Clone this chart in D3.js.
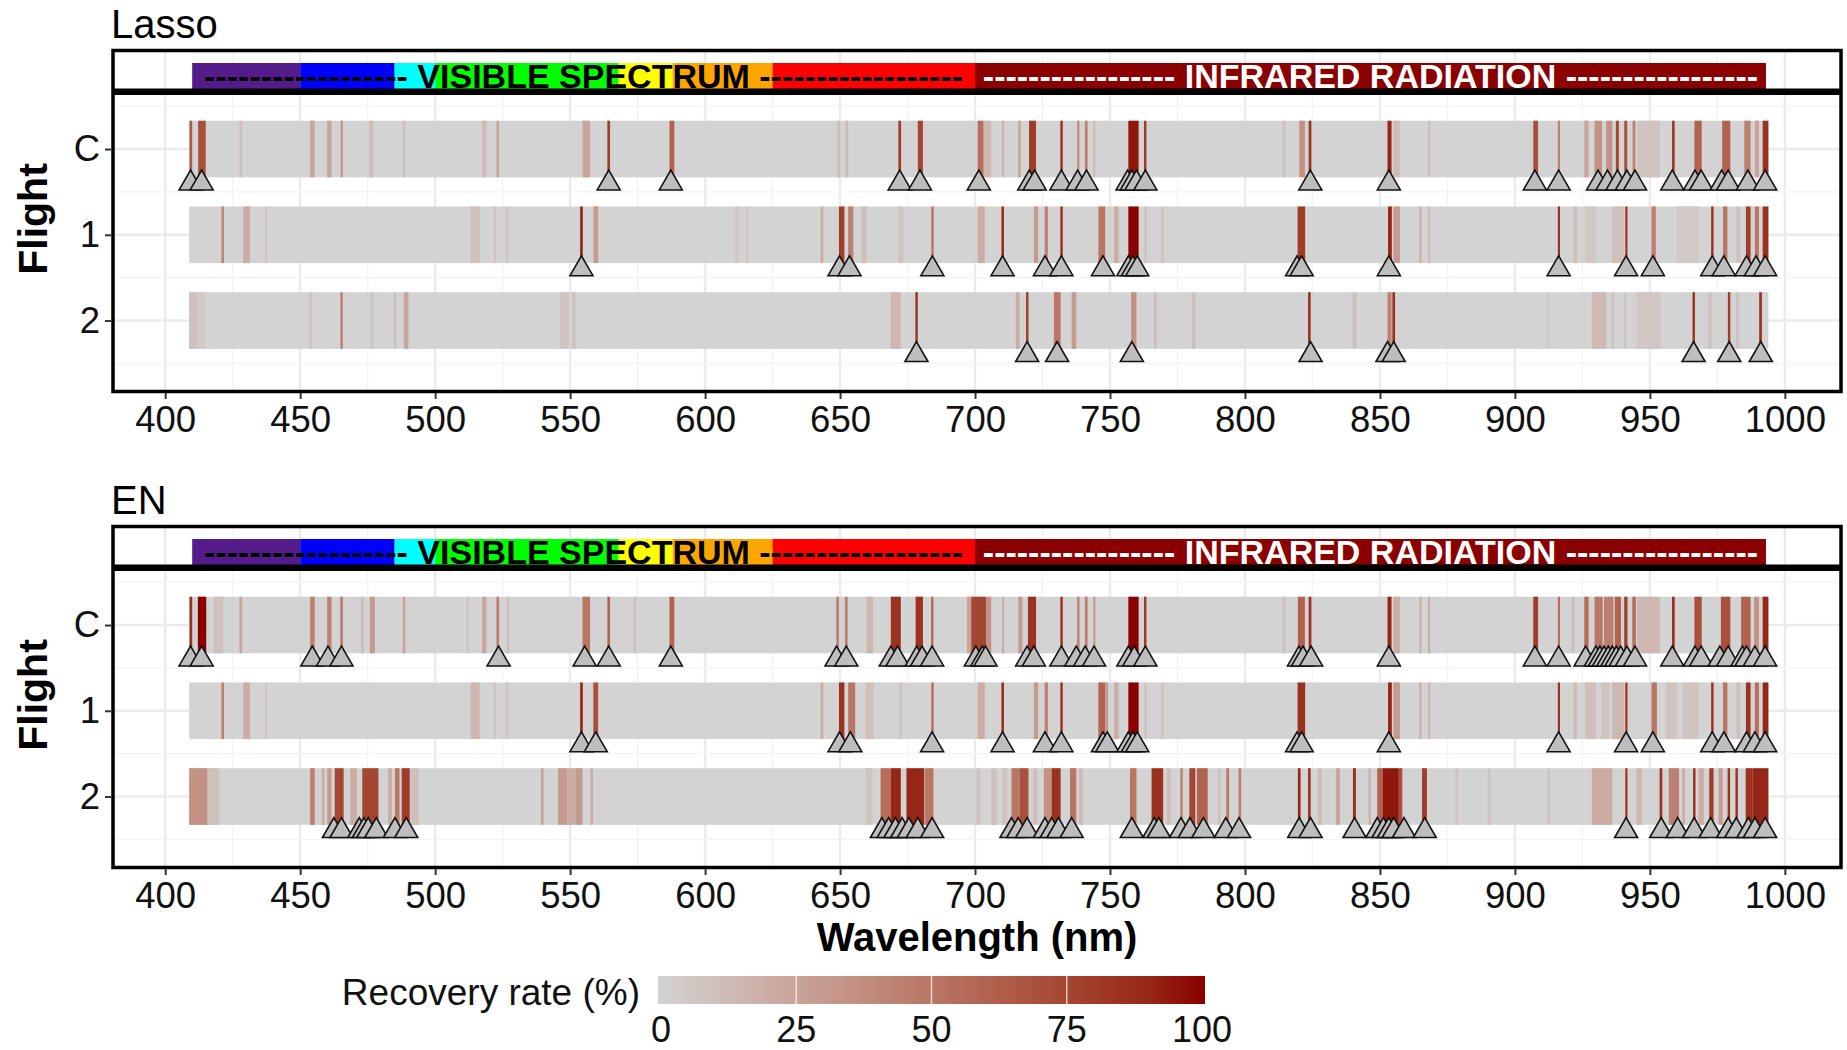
<!DOCTYPE html>
<html>
<head>
<meta charset="utf-8">
<script src="https://cdn.jsdelivr.net/npm/d3@7"></script>
<style>
  body { margin: 0; background: #fff; }
  svg { display: block; font-family: 'Liberation Sans', Arial, sans-serif; }
</style>
</head>
<body>
<svg id="chart" width="1847" height="1050"></svg>
<script>
// ---- data -------------------------------------------------------------
const flights = ['C', '1', '2']
const wavelengthTicks = [400, 450, 500, 550, 600, 650, 700, 750, 800, 850, 900, 950, 1000]
const minorTicks = [425, 475, 525, 575, 625, 675, 725, 775, 825, 875, 925, 975]
const legendTicks = [0, 25, 50, 75, 100]
const bandRange = [408.9, 993.9]   // measured wavelengths, rate 0 unless listed below

// spectrum strip: band edges (nm)
const spectrumEdges = [410, 450, 485, 500, 568, 588, 625, 700, 993]
const spectrumColours = ['#541b8b', '#0000ff', '#00ffff', '#00ff00', '#ffff00', '#ffa500', '#ff0000', '#8b0000']
const visibleLabel = ['------------------ VISIBLE SPECTRUM ------------------', 410, 700]
const infraredLabel = ['----------------- INFRARED RADIATION -----------------', 700, 993]

// recovery rate (%) per wavelength range: [from nm, to nm, rate]
const lassoC = [
  [409.0, 410.0, 65], [412.2, 415.0, 70], [427.5, 428.5, 10],
  [453.7, 455.4, 25], [460.0, 461.6, 25], [465.0, 465.8, 35],
  [475.5, 477.0, 12], [488.0, 489.0, 10], [517.4, 519.0, 12], [522.7, 523.7, 25],
  [554.6, 557.4, 25], [563.8, 564.8, 80], [586.8, 588.6, 60],
  [649.0, 650.0, 12], [652.0, 653.0, 12], [671.6, 672.6, 80], [678.8, 680.7, 75],
  [701.0, 703.2, 55], [703.2, 706.0, 15], [710.0, 710.8, 15],
  [716.0, 717.0, 25], [720.0, 722.6, 80], [731.6, 732.5, 85],
  [737.8, 738.7, 35], [740.7, 741.7, 45], [743.8, 744.5, 15],
  [756.8, 760.6, 95], [762.6, 763.5, 80],
  [814.0, 815.0, 10], [820.1, 822.2, 35], [823.6, 824.6, 85],
  [852.8, 854.3, 90], [855.0, 857.4, 12], [867.8, 868.6, 10],
  [906.8, 908.6, 70], [915.9, 916.7, 45], [925.7, 927.3, 25],
  [929.5, 932.3, 35], [933.8, 936.1, 35], [937.4, 938.5, 75], [940.5, 941.6, 70],
  [943.6, 944.6, 45], [945.3, 953.7, 8],
  [958.2, 959.2, 80], [966.5, 969.2, 60], [976.8, 979.8, 60], [985.0, 987.3, 45],
  [988.9, 990.4, 25], [991.8, 993.9, 85]
]
const lasso1 = [
  [420.8, 421.8, 40], [428.9, 431.4, 20], [437.0, 437.8, 8],
  [513.2, 516.5, 10], [521.7, 522.5, 8], [526.2, 527.0, 8],
  [553.7, 554.7, 90], [558.6, 560.4, 30], [611.0, 612.6, 6], [615.0, 616.0, 6],
  [642.8, 643.8, 20], [649.6, 651.6, 80], [653.0, 654.9, 45], [658.0, 660.0, 10],
  [671.5, 673.5, 8], [683.8, 684.7, 50], [701.0, 703.6, 20], [709.8, 710.7, 90],
  [721.8, 723.4, 30], [725.8, 727.0, 45], [731.6, 732.5, 85],
  [745.7, 748.2, 50], [751.5, 753.2, 20], [756.8, 760.6, 100], [762.8, 763.6, 10], [769.0, 770.0, 8],
  [819.5, 822.3, 80], [853.0, 854.4, 90], [855.0, 857.4, 30], [864.6, 865.4, 20], [867.8, 868.6, 12],
  [915.9, 916.7, 85], [921.6, 923.0, 10], [926.0, 930.0, 6], [936.0, 940.5, 10], [940.9, 941.7, 85],
  [950.6, 952.2, 45], [960.0, 968.0, 5], [972.7, 973.6, 85], [977.1, 978.7, 50],
  [982.0, 983.5, 10], [985.6, 987.3, 80], [988.9, 990.4, 50], [991.8, 993.9, 85]
]
const lasso2 = [
  [408.9, 412.0, 10], [412.0, 415.0, 5],
  [453.3, 454.3, 8], [464.9, 465.8, 45], [476.0, 477.0, 8], [484.7, 485.5, 10], [488.4, 490.1, 25],
  [546.3, 549.6, 8], [550.8, 552.0, 10],
  [668.8, 672.5, 15], [677.9, 678.8, 85], [715.1, 716.5, 20], [718.9, 719.8, 80],
  [729.2, 731.7, 50], [735.8, 737.5, 30], [757.8, 759.8, 35], [766.4, 767.2, 15], [780.5, 781.6, 12],
  [823.4, 824.3, 90], [839.8, 841.3, 10], [852.8, 854.3, 45], [854.6, 855.6, 85],
  [912.0, 912.8, 6], [928.5, 933.8, 14], [935.8, 936.8, 8], [940.5, 941.2, 10], [945.0, 954.0, 6],
  [965.8, 966.7, 85], [971.5, 973.0, 8], [978.9, 979.8, 80], [982.0, 983.0, 10], [990.5, 991.5, 85]
]
const enC = [
  [409.0, 410.0, 85], [412.1, 415.2, 100], [418.0, 421.5, 10], [427.5, 428.5, 25],
  [453.7, 455.4, 45], [460.0, 461.6, 45], [464.9, 465.8, 50],
  [472.5, 473.5, 12], [475.8, 477.7, 30], [488.0, 489.0, 25],
  [511.5, 512.5, 8], [517.4, 519.0, 25], [522.7, 523.7, 45], [526.5, 527.5, 10],
  [554.6, 557.4, 50], [563.8, 564.8, 60], [573.5, 574.5, 10], [586.8, 588.6, 60],
  [648.6, 649.6, 45], [651.8, 652.8, 45], [659.8, 662.2, 15],
  [668.8, 672.5, 85], [678.0, 680.7, 85], [683.7, 684.6, 55],
  [697.0, 698.6, 25], [698.6, 704.2, 75], [704.2, 706.0, 35], [710.0, 710.8, 20],
  [716.0, 717.6, 30], [719.6, 722.6, 85], [731.6, 732.5, 85],
  [737.8, 738.7, 45], [740.7, 741.7, 45], [743.8, 744.6, 30],
  [756.8, 760.6, 100], [762.6, 763.5, 80],
  [814.0, 815.0, 10], [819.6, 822.2, 60], [823.6, 824.6, 85],
  [852.8, 854.3, 90], [855.0, 857.4, 20], [864.6, 865.4, 20], [867.8, 868.6, 20],
  [906.8, 908.6, 80], [915.9, 916.7, 55], [921.0, 922.0, 12], [925.7, 927.3, 55],
  [929.5, 932.5, 50], [933.0, 936.5, 45], [937.0, 939.3, 60], [940.5, 941.7, 80],
  [943.5, 944.8, 55], [945.3, 953.7, 15],
  [958.2, 959.2, 85], [966.5, 969.2, 70], [976.3, 979.8, 70], [983.8, 987.3, 60],
  [988.6, 990.4, 35], [991.8, 993.9, 90]
]
const en1 = [
  [420.8, 421.8, 45], [428.9, 431.4, 20], [437.0, 437.8, 8],
  [513.2, 516.5, 15], [521.7, 522.5, 8], [526.2, 527.0, 8],
  [553.7, 554.7, 90], [558.6, 560.4, 70],
  [642.8, 643.8, 20], [649.6, 651.6, 85], [653.0, 655.6, 50], [659.5, 662.5, 10],
  [672.0, 673.0, 8], [683.8, 684.7, 55], [701.0, 703.6, 20], [709.8, 710.7, 90],
  [721.8, 723.4, 30], [725.8, 727.0, 45], [731.6, 732.5, 85],
  [745.7, 748.2, 60], [748.2, 749.3, 30], [751.5, 753.2, 20],
  [756.8, 760.6, 100], [762.8, 763.6, 10], [769.0, 770.0, 8],
  [819.5, 822.3, 85], [853.0, 854.4, 90], [855.0, 857.4, 30], [864.6, 865.4, 20], [867.8, 868.6, 15],
  [915.9, 916.7, 85], [921.6, 923.0, 12], [926.0, 930.0, 10], [932.0, 935.0, 8],
  [936.0, 940.5, 15], [940.9, 941.7, 85],
  [950.6, 952.6, 50], [956.0, 960.0, 8], [962.0, 968.0, 8],
  [972.7, 973.6, 85], [977.1, 978.7, 50], [982.0, 983.5, 10],
  [985.6, 987.3, 85], [988.9, 990.4, 55], [991.8, 993.9, 90]
]
const en2 = [
  [408.9, 415.7, 35], [415.7, 420.0, 10],
  [453.7, 455.4, 45], [458.0, 459.0, 20], [460.0, 461.6, 30], [462.8, 466.1, 75], [468.5, 471.0, 20],
  [473.0, 479.0, 75], [482.5, 484.0, 20], [485.1, 486.8, 50], [487.6, 490.6, 80], [491.0, 494.0, 10],
  [539.2, 540.2, 25], [545.5, 549.0, 30], [549.0, 552.0, 20], [552.0, 554.6, 30], [557.5, 558.5, 20],
  [659.5, 662.0, 8], [665.0, 668.8, 55],
  [668.8, 672.5, 90], [674.6, 681.2, 90], [681.5, 684.6, 50],
  [700.5, 702.0, 8], [706.0, 708.0, 10], [710.0, 712.0, 8],
  [713.5, 716.5, 50], [716.5, 719.8, 70], [721.5, 723.0, 12],
  [725.5, 728.4, 35], [728.4, 731.7, 85], [735.2, 737.5, 50], [738.5, 740.0, 12],
  [757.4, 759.8, 50], [765.4, 769.7, 85], [771.0, 772.5, 12],
  [776.0, 777.0, 40], [779.4, 781.6, 75], [782.2, 786.2, 60], [790.0, 791.0, 10],
  [793.1, 794.1, 50], [797.6, 798.6, 45],
  [819.6, 820.6, 90], [823.4, 824.3, 90], [827.0, 828.5, 12], [833.7, 835.2, 25],
  [840.0, 841.1, 85], [845.8, 846.6, 20], [849.0, 851.0, 60], [851.0, 857.0, 95], [857.0, 858.3, 70],
  [865.6, 867.4, 80], [878.0, 879.0, 8], [890.0, 891.0, 8], [912.0, 913.0, 8],
  [928.5, 936.1, 22], [940.9, 941.7, 85], [945.0, 947.0, 15],
  [953.6, 954.6, 85], [957.0, 960.8, 45], [962.0, 963.0, 20], [966.0, 966.9, 85], [968.0, 970.0, 20],
  [972.0, 973.6, 80], [975.5, 977.0, 30], [978.8, 979.7, 85], [981.7, 982.6, 85],
  [985.5, 988.0, 85], [988.0, 993.9, 90]
]

// selected wavelengths (triangles)
const lassoCMarks = [409.4, 413.5, 564.3, 587.3, 672.1, 679.6, 701.4, 720.1, 722.1, 732, 738, 741.3,
  756.5, 758.1, 759.8, 763.1, 824.2, 853.3, 907.4, 916.2, 930.8, 934.3, 938, 941.5, 944.5,
  958.3, 966.7, 969, 976.6, 979, 986.3, 992.7]
const lasso1Marks = [554.2, 649.8, 653.5, 684.2, 710.2, 725.9, 732, 747.4, 756.8, 758.5, 760.1,
  819.3, 821, 853.3, 916.2, 941.2, 951.1, 973.1, 977.4, 985.8, 989.3, 992.7]
const lasso2Marks = [678.3, 719.3, 730.4, 758.1, 824.3, 852.8, 855.1, 966.2, 979.4, 991.1]
const enCMarks = [409.4, 413.5, 454.5, 460.3, 465.3, 523.5, 555.4, 564.3, 587.3, 648.7, 652.3,
  668.8, 671.3, 678.4, 680.4, 684.1, 700.3, 702.7, 703.9, 719.3, 721.8, 732, 737.5, 740.8, 744.1,
  756.8, 759, 763.1, 820, 821.5, 824.5, 853.3, 907.4, 916.2, 926.2, 930, 931.5, 933, 934.6,
  936.1, 937.6, 939.2, 941.5, 944.5, 958.3, 966.7, 969, 975.9, 979, 984.3, 985.8, 988.9, 992.7]
const en1Marks = [554.2, 559.5, 649.8, 653.8, 684.1, 710.2, 725.9, 732, 747.4, 749, 756.8, 758.5,
  760.1, 819.3, 821, 853.3, 916.2, 941.2, 951.1, 973.1, 977.4, 985.8, 988.9, 992.7]
const en2Marks = [462.5, 465.3, 471.9, 473.6, 475.2, 478.2, 485.1, 489.3, 665.5, 668, 670.5, 673,
  675.5, 678.8, 684.1, 713.5, 716, 719.3, 725.9, 728.4, 730.9, 735.8, 758.1, 766.4, 768.1,
  776.3, 779.6, 784.6, 792.9, 797.8, 820.1, 824.3, 840.6, 849, 851.3, 853.3, 855.1, 858.9,
  866.6, 941.2, 954.2, 960.3, 966.4, 972.5, 979, 982, 986.5, 988.9, 992.7]

// ---- drawing ----------------------------------------------------------
const svg = d3.select('#chart')
const x = d3.scaleLinear().domain([380.66, 1020.8]).range([113, 1841])
const fill = d3.scaleLinear().domain([0, 100]).range(['#d3d3d3', '#8b0000']).interpolate(d3.interpolateLab)
const tri = d3.symbol().type(d3.symbolTriangle).size(229)

const blocks = [
  { title: 'Lasso', top: 0, rows: [lassoC, lasso1, lasso2], marks: [lassoCMarks, lasso1Marks, lasso2Marks] },
  { title: 'EN', top: 476, rows: [enC, en1, en2], marks: [enCMarks, en1Marks, en2Marks] }
]

blocks.forEach(b => {
  const g = svg.append('g').attr('transform', `translate(0,${b.top})`)
  const y = d3.scaleLinear().domain([-0.63, 2.81]).range([95, 390])

  // grid
  const grid = g.append('g')
  grid.selectAll('.vmin').data(minorTicks).join('line')
    .attr('x1', d => x(d)).attr('x2', d => x(d)).attr('y1', 52).attr('y2', 390)
    .attr('stroke', '#f3f3f3').attr('stroke-width', 1.4)
  grid.selectAll('.vmaj').data(wavelengthTicks).join('line')
    .attr('x1', d => x(d)).attr('x2', d => x(d)).attr('y1', 52).attr('y2', 390)
    .attr('stroke', '#ebebeb').attr('stroke-width', 2.4)
  grid.selectAll('.hmin').data([-0.5, 0.5, 1.5, 2.5]).join('line')
    .attr('x1', 113).attr('x2', 1841).attr('y1', d => y(d)).attr('y2', d => y(d))
    .attr('stroke', '#f3f3f3').attr('stroke-width', 1.4)
  grid.selectAll('.hmaj').data([0, 1, 2]).join('line')
    .attr('x1', 113).attr('x2', 1841).attr('y1', d => y(d)).attr('y2', d => y(d))
    .attr('stroke', '#ebebeb').attr('stroke-width', 2.4)

  // spectrum strip
  const bands = d3.pairs(spectrumEdges)
  g.selectAll('.band').data(bands).join('rect')
    .attr('x', d => x(d[0])).attr('width', d => x(d[1]) - x(d[0]))
    .attr('y', 63).attr('height', 26)
    .attr('fill', (d, i) => spectrumColours[i])
  g.append('text').attr('x', x((visibleLabel[1] + visibleLabel[2]) / 2)).attr('y', 87.5)
    .attr('text-anchor', 'middle').attr('font-size', 34).attr('font-weight', 'bold')
    .attr('fill', '#000').text(visibleLabel[0])
  g.append('text').attr('x', x((infraredLabel[1] + infraredLabel[2]) / 2)).attr('y', 87.5)
    .attr('text-anchor', 'middle').attr('font-size', 34).attr('font-weight', 'bold')
    .attr('fill', '#fff').text(infraredLabel[0])

  // heat tiles
  b.rows.forEach((row, i) => {
    const r = g.append('g')
    r.append('rect')
      .attr('x', x(bandRange[0])).attr('width', x(bandRange[1]) - x(bandRange[0]))
      .attr('y', y(i - 0.33)).attr('height', y(i + 0.33) - y(i - 0.33))
      .attr('fill', fill(0))
    r.selectAll('.cell').data(row).join('rect')
      .attr('x', d => x(d[0])).attr('width', d => Math.max(x(d[1]) - x(d[0]), 1.6))
      .attr('y', y(i - 0.33)).attr('height', y(i + 0.33) - y(i - 0.33))
      .attr('fill', d => fill(d[2]))
  })

  // selected wavelengths
  b.marks.forEach((m, i) => {
    g.append('g').selectAll('path').data(m).join('path')
      .attr('d', tri)
      .attr('transform', d => `translate(${x(d)},${y(i + 0.4)})`)
      .attr('fill', '#bebebe').attr('stroke', '#111').attr('stroke-width', 1.6)
  })

  // frame
  g.append('rect').attr('x', 113).attr('y', 50.5).attr('width', 1728).attr('height', 341)
    .attr('fill', 'none').attr('stroke', '#000').attr('stroke-width', 3.5)
  g.append('rect').attr('x', 113).attr('y', 88.5).attr('width', 1728).attr('height', 6.5).attr('fill', '#000')

  // axes
  const xAxis = g.append('g').attr('transform', 'translate(0,393)')
    .call(d3.axisBottom(x).tickValues(wavelengthTicks).tickFormat(d3.format('d')).tickSize(6).tickPadding(7))
  const yAxis = g.append('g').attr('transform', 'translate(111,0)')
    .call(d3.axisLeft(y).tickValues([0, 1, 2]).tickFormat(i => flights[i]).tickSize(6).tickPadding(5))
  ;[xAxis, yAxis].forEach(a => {
    a.select('.domain').remove()
    a.selectAll('line').attr('stroke', '#333').attr('stroke-width', 2)
    a.selectAll('text').attr('font-size', 36.5).attr('fill', '#111').attr('font-family', null)
  })

  g.append('text').attr('x', 111).attr('y', 38).attr('font-size', 40).attr('fill', '#000').text(b.title)
  g.append('text').attr('transform', 'translate(47,219) rotate(-90)')
    .attr('text-anchor', 'middle').attr('font-size', 41).attr('font-weight', 'bold').text('Flight')
})

svg.append('text').attr('x', 977).attr('y', 951).attr('text-anchor', 'middle')
  .attr('font-size', 40).attr('font-weight', 'bold').text('Wavelength (nm)')

// legend
const lx = d3.scaleLinear().domain([0, 100]).range([661, 1202])
const grad = svg.append('defs').append('linearGradient').attr('id', 'rateGrad')
grad.selectAll('stop').data(d3.range(0, 101, 10)).join('stop')
  .attr('offset', d => d + '%').attr('stop-color', d => fill(d))
svg.append('rect').attr('x', lx(0) - 3).attr('y', 976).attr('width', lx(100) - lx(0) + 6).attr('height', 28)
  .attr('fill', 'url(#rateGrad)')
svg.selectAll('.lt').data(legendTicks.slice(1, -1)).join('line')
  .attr('x1', d => lx(d)).attr('x2', d => lx(d)).attr('y1', 976).attr('y2', 1004)
  .attr('stroke', '#fff').attr('stroke-width', 1.5).attr('opacity', 0.7)
svg.selectAll('.ll').data(legendTicks).join('text')
  .attr('x', d => lx(d)).attr('y', 1042).attr('text-anchor', 'middle')
  .attr('font-size', 36).attr('fill', '#111').text(d => d)
svg.append('text').attr('x', 640).attr('y', 1005).attr('text-anchor', 'end')
  .attr('font-size', 37).attr('fill', '#111').text('Recovery rate (%)')
</script>
</body>
</html>
